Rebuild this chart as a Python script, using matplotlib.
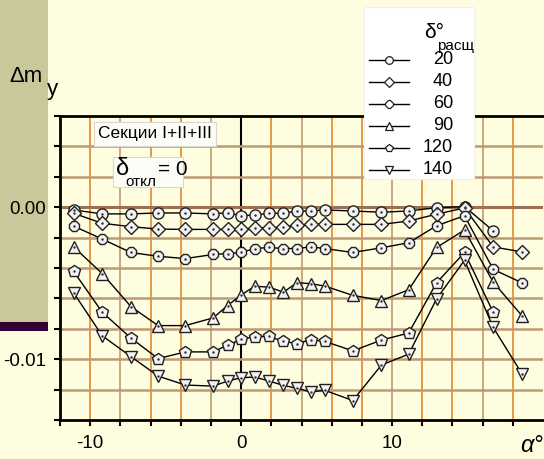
import matplotlib.pyplot as plt
from matplotlib.patches import Rectangle
from matplotlib.lines import Line2D
import numpy as np

plt.rcParams['font.family'] = ['Liberation Sans', 'DejaVu Sans']
plt.rcParams['axes.unicode_minus'] = False

# углы атаки
alpha = [-11.1, -9.2, -7.3, -5.5, -3.7, -1.85, -0.9, 0.0, 0.9, 1.85, 2.8, 3.7, 4.6, 5.55,
         7.4, 9.3, 11.1, 12.95, 14.8, 16.7, 18.6]

# значения Δm_y (x 1e-3)
s20 = [-0.18, -0.44, -0.44, -0.38, -0.38, -0.44, -0.36, -0.56, -0.51, -0.40, -0.40, -0.25,
       -0.25, -0.18, -0.25, -0.33, -0.25, -0.03, 0.04, -1.55]
s40 = [-0.40, -1.06, -1.28, -1.44, -1.46, -1.46, -1.46, -1.46, -1.39, -1.35, -1.32, -1.17,
       -1.13, -1.13, -1.13, -1.13, -0.91, -0.46, -0.05, -2.61, -2.94]
s60 = [-1.24, -2.10, -2.98, -3.23, -3.38, -3.11, -3.05, -2.98, -2.72, -2.65, -2.72, -2.72,
       -2.61, -2.72, -2.98, -2.67, -2.34, -1.22, -0.56, -4.09, -4.97]
s90 = [-2.61, -4.37, -6.54, -7.79, -7.79, -7.28, -6.47, -5.78, -5.20, -5.26, -5.59, -4.97,
       -5.03, -5.19, -5.80, -6.14, -5.43, -2.65, -1.50, -4.93, -7.13]
s120 = [-4.22, -6.91, -8.61, -9.96, -9.52, -9.52, -9.07, -8.70, -8.52, -8.50, -8.83, -8.97,
        -8.72, -8.83, -9.45, -8.74, -8.28, -4.97, -2.98, -6.91]
s140 = [-5.63, -8.46, -9.83, -11.11, -11.70, -11.77, -11.44, -11.22, -11.17, -11.44, -11.72,
        -11.92, -12.15, -12.05, -12.72, -10.38, -9.67, -6.03, -3.49, -7.91, -10.95]

labels = ['20', '40', '60', '90', '120', '140']
series = [s20, s40, s60, s90, s120, s140]
markers = ['o', 'D', '8', '^', 'p', 'v']
msizes = [8, 7.5, 8.5, 9, 9, 9]

W, H = 544, 459
bg = '#fffde0'
fig = plt.figure(figsize=(W / 100, H / 100), dpi=100, facecolor=bg)

def fx(px):
    return px / W

def fy(py):
    return 1 - py / H

# левая полоса
fig.add_artist(Rectangle((0, fy(322)), fx(48), 322 / H, transform=fig.transFigure,
                         facecolor='#c9c89b', edgecolor='none', zorder=-2))
fig.add_artist(Rectangle((0, fy(331)), fx(48), 9 / H, transform=fig.transFigure,
                         facecolor='#330033', edgecolor='none', zorder=-2))

ax = fig.add_axes([fx(60), fy(420), fx(543) - fx(60), fy(116) - fy(420)])
ax.set_facecolor(bg)
ax.set_xlim(-12, 20)
ax.set_ylim(-0.014, 0.006)

# сетка
xg = np.arange(-10, 20, 2)
for i, xv in enumerate(xg):
    if xv == 0:
        ax.axvline(0, color='black', lw=1.5, zorder=1)
    else:
        c = '#e0892c' if (i % 3 != 1) else '#c09a70'
        ax.axvline(xv, color=c, lw=1.2, zorder=1)
for yv in np.arange(-0.012, 0.006, 0.002):
    if abs(yv) < 1e-9:
        ax.axhline(0, color='#9c7050', lw=2.2, zorder=1)
    else:
        ax.axhline(yv, color='#bc9a74', lw=1.8, zorder=1)

for s, m, ms in zip(series, markers, msizes):
    xs = alpha[:len(s)]
    ys = np.array(s) * 1e-3
    ax.plot(xs, ys, color='black', lw=1.0, marker=m, ms=ms, mfc='#f2f2f2',
            mec='#202020', mew=1.0, zorder=3)
    ax.plot(xs, ys, ls='none', marker='.', ms=1.5, color='#303030', zorder=4)

ax.spines['right'].set_visible(False)
for side in ['left', 'bottom', 'top']:
    ax.spines[side].set_linewidth(2)
    ax.spines[side].set_zorder(5)

ax.set_xticks([-10, 0, 10])
ax.set_xticks(np.arange(-12, 20, 2), minor=True)
ax.set_yticks([-0.01, 0.0])
ax.set_yticklabels(['-0.01', '0.00'])
ax.set_yticks(np.arange(-0.014, 0.0061, 0.002), minor=True)
ax.tick_params(which='both', direction='out', length=4, width=1.5, labelsize=13.5, pad=6)
ax.tick_params(axis='x', pad=7)

# подписи осей
fig.text(fx(9), fy(82), 'Δm', fontsize=16, ha='left', va='baseline')
fig.text(fx(47), fy(95), 'y', fontsize=16, ha='left', va='baseline')
fig.text(fx(520), fy(452), 'α°', fontsize=17, style='italic', ha='left', va='baseline')

# надписи
fig.text(fx(155), fy(134), 'Секции I+II+III', fontsize=12.5, ha='center', va='center',
         bbox=dict(boxstyle='square,pad=0.25', facecolor='#fdfdf8', edgecolor='#d8d8d0', lw=0.8))
fig.add_artist(Rectangle((fx(113), fy(187)), fx(183) - fx(113), 30 / H, transform=fig.transFigure,
                         facecolor='#fdfdf8', edgecolor='#d8d8d0', lw=0.8))
fig.text(fx(116), fy(175), 'δ', fontsize=17, ha='left', va='baseline')
fig.text(fx(125), fy(186), 'откл', fontsize=11, ha='left', va='baseline')
fig.text(fx(158), fy(175), '= 0', fontsize=15, ha='left', va='baseline')

# легенда
fig.add_artist(Rectangle((fx(364), fy(179)), fx(474) - fx(364), 172 / H, transform=fig.transFigure,
                         facecolor='white', edgecolor='#f0f0f0', lw=0.8, zorder=10))
fig.text(fx(424), fy(38), 'δ°', fontsize=15, ha='left', va='baseline', zorder=11)
fig.text(fx(437), fy(50), 'расщ', fontsize=11, ha='left', va='baseline', zorder=11)
for k, (lab, m) in enumerate(zip(labels, markers)):
    yy = fy(60 + 22 * k)
    fig.add_artist(Line2D([fx(369), fx(409)], [yy, yy], transform=fig.transFigure,
                          color='black', lw=1.0, zorder=11))
    fig.add_artist(Line2D([fx(389)], [yy], transform=fig.transFigure, marker=m, ms=5.5,
                          mfc='white', mec='#202020', mew=0.9, zorder=12))
    fig.text(fx(453), yy, lab, fontsize=13, ha='right', va='center', zorder=12)

fig.savefig('out.png', dpi=100, facecolor=bg)
